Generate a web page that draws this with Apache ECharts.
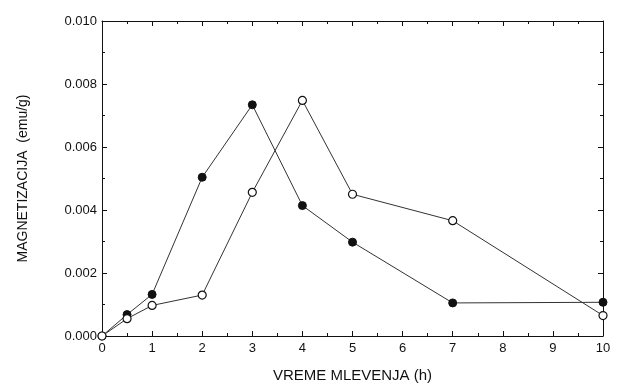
<!DOCTYPE html>
<html><head><meta charset="utf-8">
<script src="https://cdn.jsdelivr.net/npm/echarts@6/dist/echarts.min.js"></script>
<style>html,body{margin:0;padding:0;background:#fff}#c{width:619px;height:392px}</style>
</head><body><div id="c"></div>
<script>
const times = [0, 0.5, 1, 2, 3, 4, 5, 7, 10];
const filledValues = [0, 0.00068, 0.00132, 0.00504, 0.00734, 0.00414, 0.00298, 0.00105, 0.00107];
const openValues = [0, 0.00055, 0.00097, 0.00130, 0.00456, 0.00748, 0.00450, 0.00366, 0.00065];
const xTitle = 'VREME MLEVENJA (h)';
const yTitle = 'MAGNETIZACIJA  (emu/g)';

const font = 'Liberation Sans, Arial, sans-serif';
const axisLine = {show: true, onZero: false, lineStyle: {color: '#111', width: 1}};
const tick = {show: true, inside: true, length: 5, lineStyle: {color: '#111'}};
const minor = {show: true, splitNumber: 2, length: 3, lineStyle: {color: '#111'}};

const chart = echarts.init(document.getElementById('c'));
chart.setOption({
  animation: false,
  backgroundColor: '#fff',
  grid: {left: 102, right: 16, top: 21, bottom: 56},
  xAxis: [{
    type: 'value', min: 0, max: 10, interval: 1, position: 'bottom',
    axisLine, axisTick: tick, minorTick: minor, splitLine: {show: false},
    axisLabel: {color: '#111', fontFamily: font, fontSize: 13, margin: 6},
    name: xTitle, nameLocation: 'middle', nameGap: 32,
    nameTextStyle: {color: '#111', fontFamily: font, fontSize: 15}
  }, {
    type: 'value', min: 0, max: 10, interval: 1, position: 'top',
    axisLine, axisTick: tick, minorTick: minor, splitLine: {show: false},
    axisLabel: {show: false}
  }],
  yAxis: [{
    type: 'value', min: 0, max: 0.010, interval: 0.002, position: 'left',
    axisLine, axisTick: tick, minorTick: minor, splitLine: {show: false},
    axisLabel: {color: '#111', fontFamily: font, fontSize: 13, margin: 5,
      formatter: v => v.toFixed(3)},
    name: yTitle, nameLocation: 'middle', nameGap: 72, nameRotate: 90,
    nameTextStyle: {color: '#111', fontFamily: font, fontSize: 14}
  }, {
    type: 'value', min: 0, max: 0.010, interval: 0.002, position: 'right',
    axisLine, axisTick: tick, minorTick: minor, splitLine: {show: false},
    axisLabel: {show: false}
  }],
  series: [{
    type: 'line', name: 'filled',
    data: times.map((t, i) => [t, filledValues[i]]),
    symbol: 'circle', symbolSize: 8, showAllSymbol: true,
    lineStyle: {color: '#333', width: 1},
    itemStyle: {color: '#111', borderColor: '#111', borderWidth: 1},
    z: 2
  }, {
    type: 'line', name: 'open',
    data: times.map((t, i) => [t, openValues[i]]),
    symbol: 'circle', symbolSize: 8, showAllSymbol: true,
    lineStyle: {color: '#333', width: 1},
    itemStyle: {color: '#fff', borderColor: '#111', borderWidth: 1.2},
    z: 3
  }]
});
</script></body></html>
